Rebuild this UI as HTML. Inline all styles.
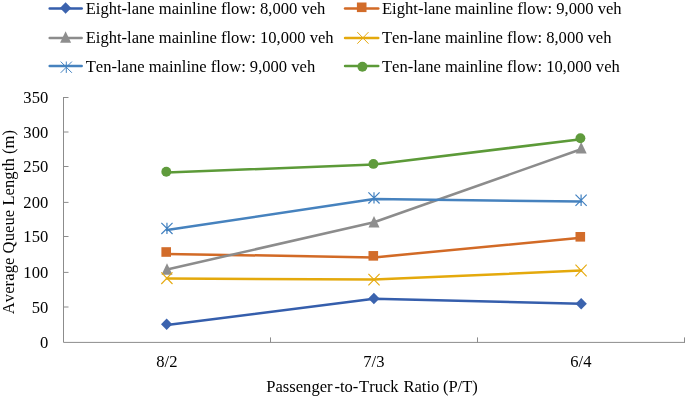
<!DOCTYPE html>
<html><head><meta charset="utf-8"><title>Chart</title>
<style>
html,body{margin:0;padding:0;background:#fff;}
body{width:685px;height:397px;position:relative;overflow:hidden;}
.t{font-kerning:none;font-family:"Liberation Serif",serif;font-size:16.57px;fill:#000;}
</style></head><body>
<svg width="685" height="397" viewBox="0 0 685 397" style="position:absolute;left:0;top:0;will-change:transform">
<rect width="685" height="397" fill="#fff"/>
<g stroke="#8c8c8c" stroke-width="1" fill="none" stroke-linecap="butt">
<path d="M63.5,97 V342.4 H685.0"/>
<path d="M63.5,307.0 h5"/>
<path d="M63.5,272.4 h5"/>
<path d="M63.5,236.5 h5"/>
<path d="M63.5,202.4 h5"/>
<path d="M63.5,166.5 h5"/>
<path d="M63.5,132.0 h5"/>
<path d="M63.5,97.5 h5"/>
<path d="M270.5,342.4 v-5"/>
<path d="M477.5,342.4 v-5"/>
<path d="M684.5,342.4 v-5"/>
</g>
<polyline points="167.0,325.1 374.0,298.7 581.0,303.8" fill="none" stroke="#355EAC" stroke-width="2.5" stroke-linejoin="round" stroke-linecap="round"/>
<path d="M161.0,324.3 L166.65,318.55 L172.3,324.3 L166.65,330.05 Z" fill="#3B63AE"/>
<path d="M368.25,298.6 L373.9,292.85 L379.54999999999995,298.6 L373.9,304.35 Z" fill="#3B63AE"/>
<path d="M575.5500000000001,303.7 L581.2,297.95 L586.85,303.7 L581.2,309.45 Z" fill="#3B63AE"/>
<polyline points="167.0,253.9 374.0,257.4 581.0,237.7" fill="none" stroke="#D26A26" stroke-width="2.5" stroke-linejoin="round" stroke-linecap="round"/>
<rect x="161.39999999999998" y="247.2" width="9.6" height="9.6" fill="#D26C2A"/>
<rect x="368.5" y="251.04999999999998" width="9.6" height="9.6" fill="#D26C2A"/>
<rect x="575.5" y="232.0" width="9.6" height="9.6" fill="#D26C2A"/>
<polyline points="167.0,269.5 374.0,222.2 581.0,149.3" fill="none" stroke="#8C8C8C" stroke-width="2.5" stroke-linejoin="round" stroke-linecap="round"/>
<path d="M167.0,263.3 L172.5,274.8 L161.5,274.8 Z" fill="#8E8E8E"/>
<path d="M374.0,216.1 L379.5,227.6 L368.5,227.6 Z" fill="#8E8E8E"/>
<path d="M581.2,142.0 L586.7,153.5 L575.7,153.5 Z" fill="#8E8E8E"/>
<polyline points="167.0,278.4 374.0,279.6 581.0,270.6" fill="none" stroke="#E4A90C" stroke-width="2.5" stroke-linejoin="round" stroke-linecap="round"/>
<path d="M161.3,272.4 L172.5,284.0 M161.3,284.0 L172.5,272.4" stroke="#E6AA10" stroke-width="1.15" fill="none"/>
<path d="M368.4,273.8 L379.6,285.40000000000003 M368.4,285.40000000000003 L379.6,273.8" stroke="#E6AA10" stroke-width="1.15" fill="none"/>
<path d="M575.47,264.7 L586.6700000000001,276.3 M575.47,276.3 L586.6700000000001,264.7" stroke="#E6AA10" stroke-width="1.15" fill="none"/>
<polyline points="167.0,230.0 374.0,199.1 581.0,201.6" fill="none" stroke="#4682BE" stroke-width="2.5" stroke-linejoin="round" stroke-linecap="round"/>
<path d="M161.35,222.8 L172.54999999999998,234.0 M161.35,234.0 L172.54999999999998,222.8 M166.95,222.70000000000002 L166.95,234.1" stroke="#4281C0" stroke-width="1.2" fill="none"/>
<path d="M368.4,192.3 L379.6,203.5 M368.4,203.5 L379.6,192.3 M374.0,192.20000000000002 L374.0,203.6" stroke="#4281C0" stroke-width="1.2" fill="none"/>
<path d="M575.5,194.70000000000002 L586.7,205.9 M575.5,205.9 L586.7,194.70000000000002 M581.1,194.60000000000002 L581.1,206.0" stroke="#4281C0" stroke-width="1.2" fill="none"/>
<polyline points="167.0,172.6 374.0,164.5 581.0,139.2" fill="none" stroke="#5C9A38" stroke-width="2.5" stroke-linejoin="round" stroke-linecap="round"/>
<circle cx="166.3" cy="171.8" r="4.95" fill="#5F9B3C"/>
<circle cx="373.4" cy="163.9" r="4.95" fill="#5F9B3C"/>
<circle cx="580.4" cy="138.3" r="4.95" fill="#5F9B3C"/>
<g>
<path d="M49.7,8.5 H81.7" stroke="#355EAC" stroke-width="2.5" stroke-linecap="round"/>
<path d="M59.949999999999996,8.1 L65.6,2.3499999999999996 L71.25,8.1 L65.6,13.85 Z" fill="#3B63AE"/>
<text x="85.7" y="14.1" class="t">Eight-lane mainline flow: 8,000 veh</text>
<path d="M345.05,8.5 H378.25" stroke="#D26A26" stroke-width="2.5" stroke-linecap="round"/>
<rect x="356.9" y="2.5" width="9.6" height="9.6" fill="#D26C2A"/>
<text x="382.0" y="14.1" class="t">Eight-lane mainline flow: 9,000 veh</text>
<path d="M49.7,37.95 H81.7" stroke="#8C8C8C" stroke-width="2.5" stroke-linecap="round"/>
<path d="M65.6,31.299999999999997 L71.1,42.8 L60.099999999999994,42.8 Z" fill="#8E8E8E"/>
<text x="85.7" y="43.1" class="t">Eight-lane mainline flow: 10,000 veh</text>
<path d="M345.05,37.95 H378.25" stroke="#E4A90C" stroke-width="2.5" stroke-linecap="round"/>
<path d="M357.29999999999995,32.1 L368.5,43.699999999999996 M357.29999999999995,43.699999999999996 L368.5,32.1" stroke="#E6AA10" stroke-width="1.0" fill="none"/>
<text x="382.0" y="43.1" class="t">Ten-lane mainline flow: 8,000 veh</text>
<path d="M49.7,66.1 H81.7" stroke="#4682BE" stroke-width="2.5" stroke-linecap="round"/>
<path d="M60.699999999999996,61.6 L71.89999999999999,72.8 M60.699999999999996,72.8 L71.89999999999999,61.6 M66.3,61.5 L66.3,72.9" stroke="#4281C0" stroke-width="1.0" fill="none"/>
<text x="85.7" y="71.6" class="t">Ten-lane mainline flow: 9,000 veh</text>
<path d="M345.05,66.1 H378.25" stroke="#5C9A38" stroke-width="2.5" stroke-linecap="round"/>
<circle cx="362.4" cy="66.7" r="4.95" fill="#5F9B3C"/>
<text x="382.0" y="71.6" class="t">Ten-lane mainline flow: 10,000 veh</text>
<text x="48.2" y="348.20" class="t" text-anchor="end">0</text>
<text x="48.2" y="312.80" class="t" text-anchor="end">50</text>
<text x="48.2" y="278.20" class="t" text-anchor="end">100</text>
<text x="48.2" y="242.30" class="t" text-anchor="end">150</text>
<text x="48.2" y="208.20" class="t" text-anchor="end">200</text>
<text x="48.2" y="172.30" class="t" text-anchor="end">250</text>
<text x="48.2" y="137.80" class="t" text-anchor="end">300</text>
<text x="48.2" y="103.30" class="t" text-anchor="end">350</text>
<text x="166.85" y="367.35" class="t" text-anchor="middle">8/2</text>
<text x="373.85" y="367.35" class="t" text-anchor="middle">7/3</text>
<text x="580.85" y="367.35" class="t" text-anchor="middle">6/4</text>
<text x="266.3" y="391.8" class="t">Passenger<tspan dx="1.9">-to-</tspan><tspan dx="0.7">Truck</tspan><tspan dx="0.7"> Ratio</tspan><tspan dx="-0.6"> (P/T)</tspan></text>
<text transform="translate(13.9,222.1) rotate(-90)" class="t" text-anchor="middle" textLength="184.2" lengthAdjust="spacing">Average Queue Length (m)</text>
</g>
</svg>
</body></html>
